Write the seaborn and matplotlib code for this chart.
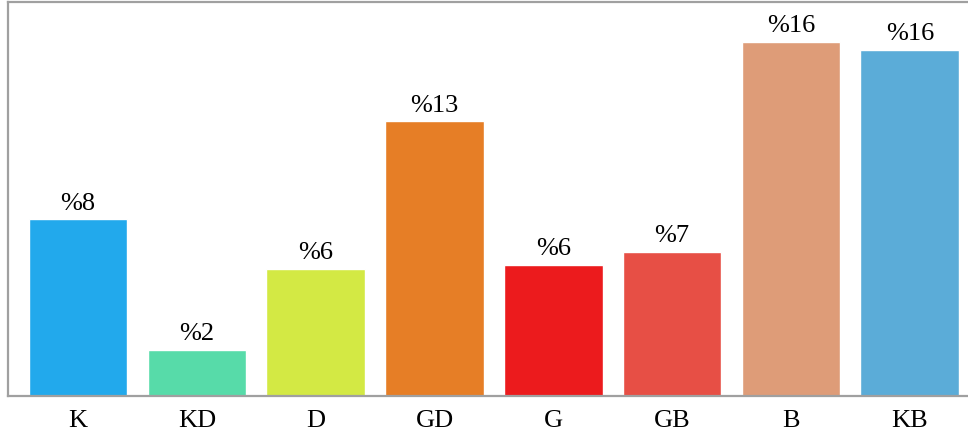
import matplotlib
matplotlib.use("Agg")
import matplotlib.pyplot as plt
import pandas as pd
import seaborn as sns

categories = ["K", "KD", "D", "GD", "G", "GB", "B", "KB"]
values = [8.0, 2.08, 5.75, 12.44, 5.93, 6.52, 16.02, 15.66]
value_labels = ["%8", "%2", "%6", "%13", "%6", "%7", "%16", "%16"]
colors = ["#22A9EC", "#57DBA9", "#D3E944", "#E67E26",
          "#EC1B1D", "#E74F45", "#DE9C78", "#5BACD8"]

sns.set_theme(style="white")
plt.rcParams["font.family"] = ["Liberation Serif", "DejaVu Serif"]

df = pd.DataFrame({"cat": categories, "val": values})

fig = plt.figure(figsize=(9.68, 4.39), dpi=100)
ax = fig.add_axes([8 / 968, 42 / 439, 1.0 - 8 / 968, 394 / 439])

sns.barplot(data=df, x="cat", y="val", hue="cat", palette=colors,
            order=categories, hue_order=categories, legend=False,
            width=0.83, saturation=1, ax=ax)

for i, (v, lab) in enumerate(zip(values, value_labels)):
    ax.annotate(lab, (i, v), xytext=(0, 4), textcoords="offset points",
                ha="center", va="bottom", fontsize=19, color="black")

ax.set_xlim(-0.59, 7.49)
ax.set_ylim(0, 17.83)
ax.set_yticks([])
ax.set_xlabel("")
ax.set_ylabel("")
ax.tick_params(axis="x", length=0, labelsize=19, pad=9.5, colors="black")

for side in ["left", "top", "bottom"]:
    ax.spines[side].set_color("#A0A0A0")
    ax.spines[side].set_linewidth(1.6)
ax.spines["right"].set_visible(False)

fig.savefig("out.png", dpi=100)
